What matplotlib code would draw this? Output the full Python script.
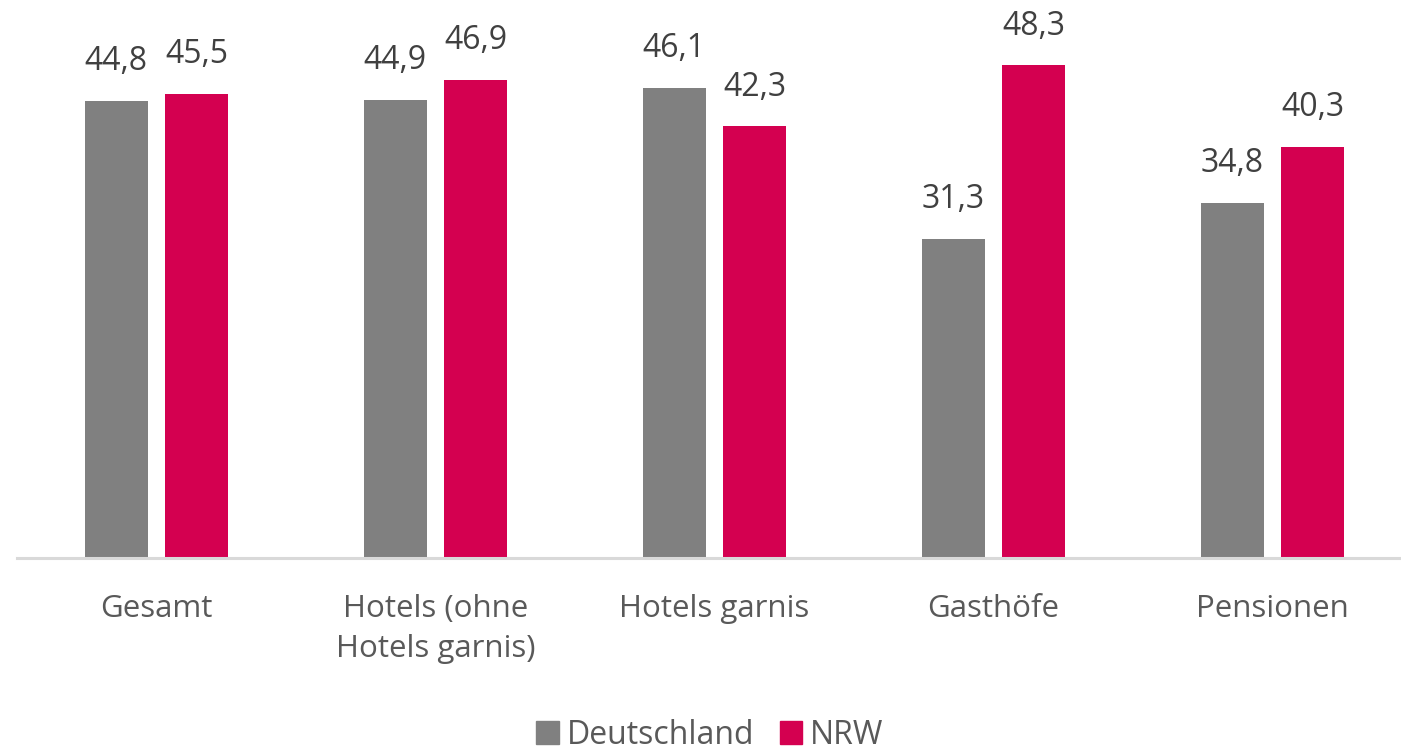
import matplotlib
matplotlib.use("Agg")
import matplotlib.pyplot as plt
from matplotlib.patches import Patch
import numpy as np

categories = ["Gesamt", "Hotels (ohne\nHotels garnis)", "Hotels garnis", "Gasthöfe", "Pensionen"]
deutschland = [44.8, 44.9, 46.1, 31.3, 34.8]
nrw = [45.5, 46.9, 42.3, 48.3, 40.3]
series_names = ["Deutschland", "NRW"]

GRAY = "#808080"
RED = "#D40050"
FONT = "Open Sans"

plt.rcParams["font.family"] = [FONT, "DejaVu Sans"]

W, H = 1401, 751
fig = plt.figure(figsize=(W / 100, H / 100), dpi=100)
ax_left, ax_right = 17, 1412
ax_bottom, ax_top = 558, 0
ax = fig.add_axes([ax_left / W, 1 - ax_bottom / H, (ax_right - ax_left) / W, (ax_bottom - ax_top) / H])

x = np.arange(len(categories))
bw = 0.226
off = 0.144
b1 = ax.bar(x - off, deutschland, bw, color=GRAY, zorder=2)
b2 = ax.bar(x + off, nrw, bw, color=RED, zorder=2)

ax.set_xlim(-0.5, len(categories) - 0.5)
ax.set_ylim(0, 54.7)

for bars, vals in ((b1, deutschland), (b2, nrw)):
    for rect, v in zip(bars, vals):
        ax.annotate(f"{v:.1f}".replace(".", ","),
                    (rect.get_x() + rect.get_width() / 2, rect.get_height()),
                    xytext=(0, 22), textcoords="offset points",
                    ha="center", va="baseline", fontsize=23, color="#404040")

for s in ["top", "right", "left"]:
    ax.spines[s].set_visible(False)
ax.spines["bottom"].set_color("#D9D9D9")
ax.spines["bottom"].set_linewidth(2.2)
ax.set_yticks([])
ax.set_xticks(x)
ax.set_xticklabels(categories, fontsize=22.5, color="#595959", linespacing=1.45)
ax.tick_params(axis="x", length=0, pad=26)

handles = [Patch(color=GRAY), Patch(color=RED)]
fig.legend(handles, series_names, loc="center", bbox_to_anchor=(710 / W, 1 - 735 / H),
           ncol=2, frameon=False, fontsize=23, labelcolor="#595959",
           handlelength=0.7, handleheight=0.7, handletextpad=0.25, columnspacing=0.8)

fig.savefig("out.png", dpi=100)
